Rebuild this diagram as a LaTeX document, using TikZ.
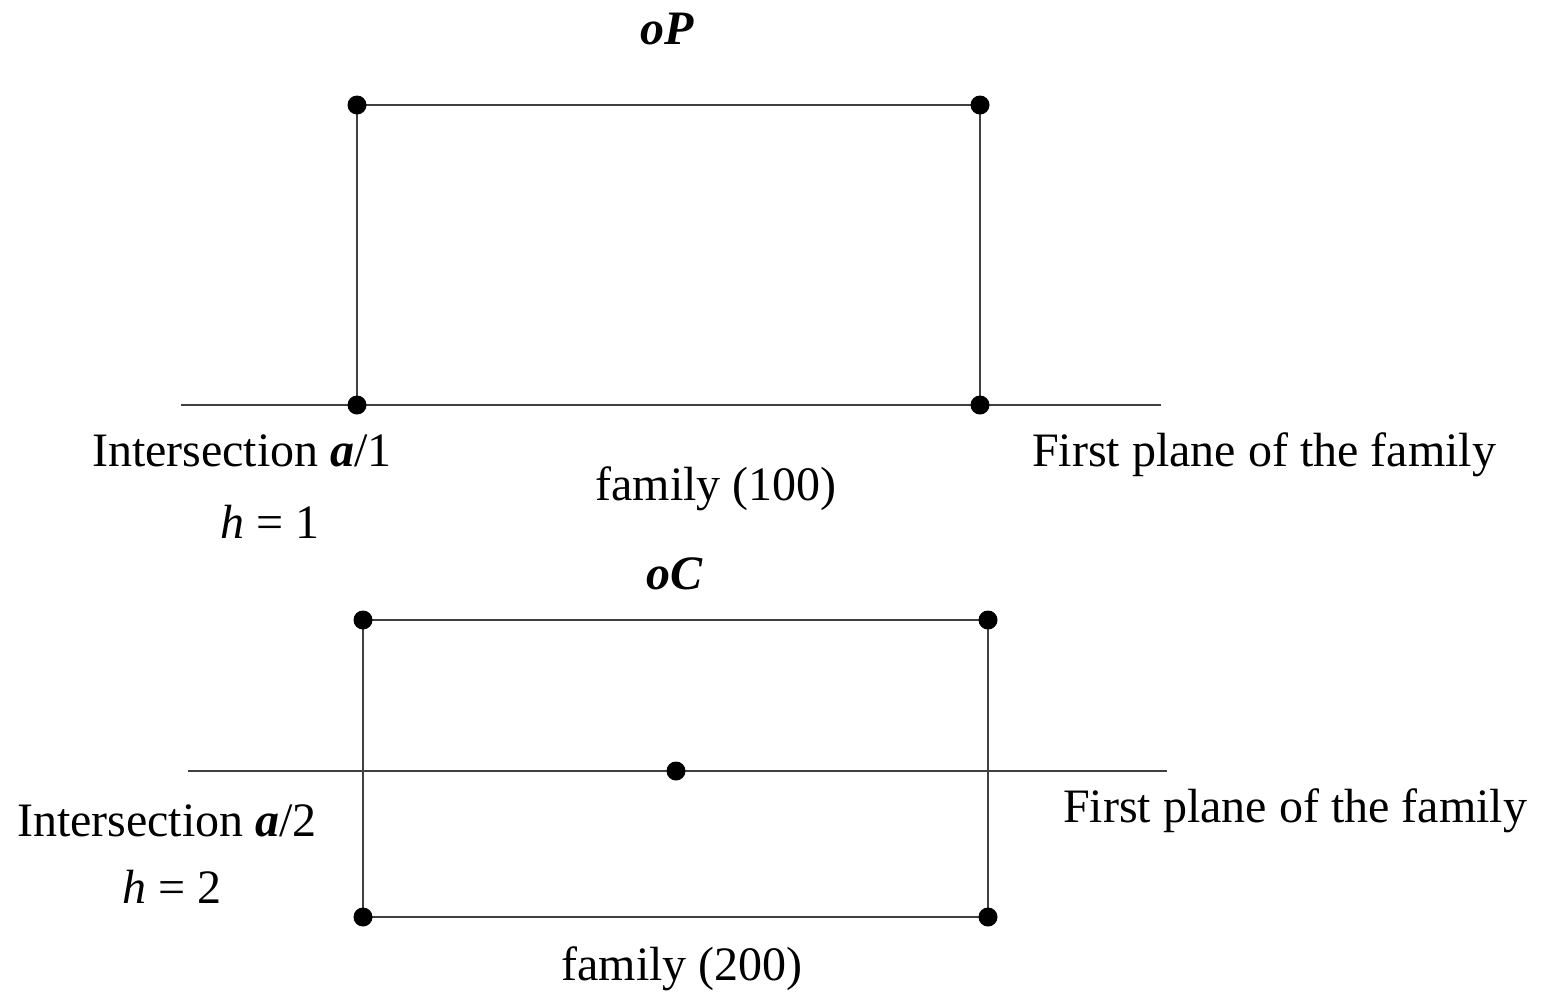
\documentclass[tikz,border=0pt]{standalone}
\usepackage{fontspec}
\setmainfont{Liberation Serif}
\begin{document}
\begin{tikzpicture}[x=1pt,y=-1pt,
  ln/.style={line width=1.2pt, draw=black!75},
  dot/.style={circle, fill=black, inner sep=0pt, minimum size=19pt},
  lbl/.style={anchor=base, inner sep=0pt, font=\fontsize{48}{56}\selectfont}]
\useasboundingbox (0,0) rectangle (1546,1005);
% top diagram
\coordinate (l1) at (181,405);
\coordinate (r1) at (1161,405);
\coordinate (A1) at (357,105);
\coordinate (B1) at (980,105);
\coordinate (C1) at (980,405);
\coordinate (D1) at (357,405);
\draw[ln] (l1) -- (r1);
\draw[ln] (A1) -- (B1) -- (C1) -- (D1) -- cycle;
\node[dot] (a1) at (A1) {};
\node[dot] (b1) at (B1) {};
\node[dot] (c1) at (C1) {};
\node[dot] (d1) at (D1) {};
\node[lbl] (oP) at (667,44) {\textbf{\textit{oP}}};
\node[lbl] (int1) at (242,466) {Intersection \textbf{\textit{a}}/1};
\node[lbl] (h1) at (270,538) {\textit{h} = 1};
\node[lbl] (fam1) at (716,500) {family (100)};
\node[lbl] (fp1) at (1264,466) {First plane of the family};
% bottom diagram
\coordinate (l2) at (188,771);
\coordinate (r2) at (1167,771);
\coordinate (A2) at (363,620);
\coordinate (B2) at (988,620);
\coordinate (C2) at (988,917);
\coordinate (D2) at (363,917);
\coordinate (M2) at (676,771);
\draw[ln] (l2) -- (r2);
\draw[ln] (A2) -- (B2) -- (C2) -- (D2) -- cycle;
\node[dot] (a2) at (A2) {};
\node[dot] (b2) at (B2) {};
\node[dot] (c2) at (C2) {};
\node[dot] (d2) at (D2) {};
\node[dot] (m2) at (M2) {};
\node[lbl] (oC) at (675,589) {\textbf{\textit{oC}}};
\node[lbl] (int2) at (167,836) {Intersection \textbf{\textit{a}}/2};
\node[lbl] (h2) at (172,903) {\textit{h} = 2};
\node[lbl] (fp2) at (1295,822) {First plane of the family};
\node[lbl] (fam2) at (682,980) {family (200)};
\end{tikzpicture}
\end{document}
